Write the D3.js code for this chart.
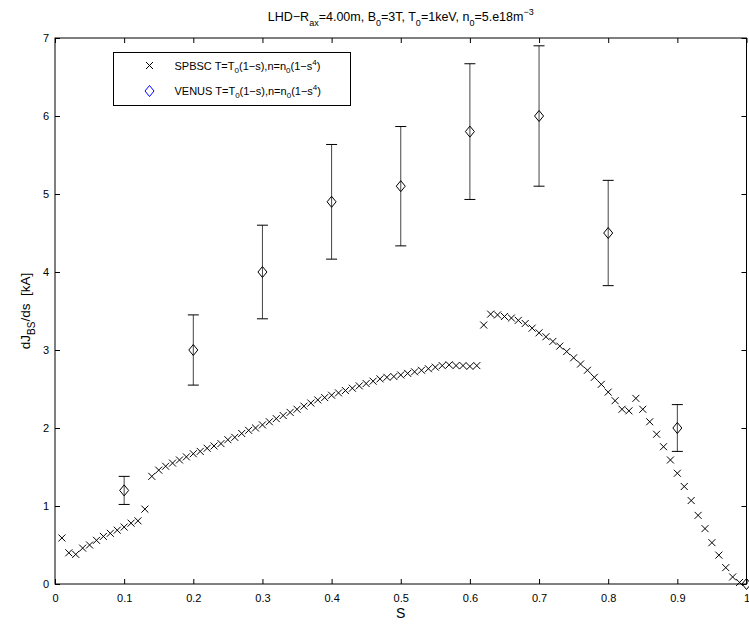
<!DOCTYPE html>
<html lang="en">
<head>
    <meta charset="UTF-8">
    <title>dJBS/ds</title>
    <script src="https://cdn.jsdelivr.net/npm/d3@7/dist/d3.min.js"></script>
    <style>
        body { margin: 0; background: #fff; }
        svg { font-family: "Liberation Sans", Arial, sans-serif; }
        .tick text { font-size: 11px; fill: #000; }
        .tick line { stroke: #000; }
    </style>
</head>
<body>
    <svg width="749" height="624"></svg>
    <script>
        // SPBSC points
        var spbscS = [0.01, 0.02, 0.03, 0.04, 0.05, 0.06, 0.07, 0.08, 0.09, 0.10,
                      0.11, 0.12, 0.13, 0.14, 0.15, 0.16, 0.17, 0.18, 0.19, 0.20,
                      0.21, 0.22, 0.23, 0.24, 0.25, 0.26, 0.27, 0.28, 0.29, 0.30,
                      0.31, 0.32, 0.33, 0.34, 0.35, 0.36, 0.37, 0.38, 0.39, 0.40,
                      0.41, 0.42, 0.43, 0.44, 0.45, 0.46, 0.47, 0.48, 0.49, 0.50,
                      0.51, 0.52, 0.53, 0.54, 0.55, 0.56, 0.57, 0.58, 0.59, 0.60,
                      0.61, 0.62, 0.63, 0.64, 0.65, 0.66, 0.67, 0.68, 0.69, 0.70,
                      0.71, 0.72, 0.73, 0.74, 0.75, 0.76, 0.77, 0.78, 0.79, 0.80,
                      0.81, 0.82, 0.83, 0.84, 0.85, 0.86, 0.87, 0.88, 0.89, 0.90,
                      0.91, 0.92, 0.93, 0.94, 0.95, 0.96, 0.97, 0.98, 0.99];
        var spbscJ = [0.59, 0.40, 0.38, 0.46, 0.50, 0.56, 0.61, 0.65, 0.69, 0.73,
                      0.78, 0.81, 0.96, 1.38, 1.46, 1.51, 1.55, 1.59, 1.63, 1.67,
                      1.70, 1.74, 1.77, 1.80, 1.85, 1.88, 1.93, 1.97, 2.00, 2.04,
                      2.08, 2.12, 2.16, 2.20, 2.24, 2.28, 2.32, 2.36, 2.39, 2.42,
                      2.45, 2.48, 2.51, 2.54, 2.57, 2.60, 2.63, 2.65, 2.66, 2.68,
                      2.70, 2.72, 2.74, 2.76, 2.78, 2.80, 2.81, 2.80, 2.80, 2.79,
                      2.80, 3.32, 3.46, 3.45, 3.43, 3.41, 3.38, 3.34, 3.28, 3.22,
                      3.17, 3.11, 3.05, 2.98, 2.90, 2.82, 2.74, 2.65, 2.56, 2.46,
                      2.35, 2.24, 2.22, 2.38, 2.24, 2.08, 1.92, 1.76, 1.59, 1.42,
                      1.25, 1.07, 0.88, 0.71, 0.53, 0.37, 0.21, 0.09, 0.02];

        // VENUS points with error bars
        var venusS   = [0.1, 0.2, 0.3, 0.4, 0.5, 0.6, 0.7, 0.8, 0.9, 1.0];
        var venusJ   = [1.2, 3.0, 4.0, 4.9, 5.1, 5.8, 6.0, 4.5, 2.0, 0.0];
        var venusErr = [0.18, 0.45, 0.6, 0.735, 0.765, 0.87, 0.9, 0.675, 0.3, 0.0];

        var xTicks = [0, 0.1, 0.2, 0.3, 0.4, 0.5, 0.6, 0.7, 0.8, 0.9, 1];
        var yTicks = [0, 1, 2, 3, 4, 5, 6, 7];

        var svg = d3.select('svg'),
            margin = { top: 38, right: 2.5, bottom: 40, left: 55 },
            width = 749 - margin.left - margin.right,
            height = 624 - margin.top - margin.bottom,
            xScale = d3.scaleLinear().domain([0, 1]).range([0, width]),
            yScale = d3.scaleLinear().domain([0, 7]).range([height, 0]);

        var chartG = svg.append('g')
            .attr('transform', 'translate(' + [margin.left, margin.top] + ')');

        // axes, ticks inward on all four sides
        chartG.append('g')
            .attr('transform', 'translate(0,' + height + ')')
            .call(d3.axisBottom(xScale).tickValues(xTicks).tickSize(-5).tickPadding(10)
                .tickFormat(function(d) { return d; }))
            .call(function(g) { g.select('.domain').remove(); });
        chartG.append('g')
            .call(d3.axisTop(xScale).tickValues(xTicks).tickSize(-5).tickFormat(''))
            .call(function(g) { g.select('.domain').remove(); });
        chartG.append('g')
            .call(d3.axisLeft(yScale).tickValues(yTicks).tickSize(-5).tickPadding(6)
                .tickFormat(function(d) { return d; }))
            .call(function(g) { g.select('.domain').remove(); });
        chartG.append('g')
            .attr('transform', 'translate(' + width + ',0)')
            .call(d3.axisRight(yScale).tickValues(yTicks).tickSize(-5).tickFormat(''))
            .call(function(g) { g.select('.domain').remove(); });

        chartG.append('rect')
            .attr('width', width)
            .attr('height', height)
            .attr('fill', 'none')
            .attr('stroke', '#000')
            .attr('stroke-width', 1);

        // SPBSC x markers
        var xMark = 'M-3.5,-3.5L3.5,3.5M-3.5,3.5L3.5,-3.5';
        chartG.append('g').selectAll('path')
            .data(spbscS)
            .join('path')
            .attr('d', xMark)
            .attr('transform', function(d, i) {
                return 'translate(' + [xScale(d), yScale(spbscJ[i])] + ')';
            })
            .attr('fill', 'none')
            .attr('stroke', '#000')
            .attr('stroke-width', 1);

        // VENUS error bars
        var venus = venusS.map(function(s, i) {
            return { s: s, j: venusJ[i], e: venusErr[i] };
        });
        var errG = chartG.append('g').selectAll('g')
            .data(venus.filter(function(d) { return d.e > 0; }))
            .join('g');
        errG.append('line')
            .attr('x1', function(d) { return xScale(d.s); })
            .attr('x2', function(d) { return xScale(d.s); })
            .attr('y1', function(d) { return yScale(d.j - d.e); })
            .attr('y2', function(d) { return yScale(d.j + d.e); })
            .attr('stroke', '#444');
        [-1, 1].forEach(function(sign) {
            errG.append('line')
                .attr('x1', function(d) { return xScale(d.s) - 5.5; })
                .attr('x2', function(d) { return xScale(d.s) + 5.5; })
                .attr('y1', function(d) { return yScale(d.j + sign * d.e); })
                .attr('y2', function(d) { return yScale(d.j + sign * d.e); })
                .attr('stroke', '#000');
        });

        var diamond = 'M0,-5.5L4.5,0L0,5.5L-4.5,0Z';
        chartG.append('g').selectAll('path')
            .data(venus)
            .join('path')
            .attr('d', diamond)
            .attr('transform', function(d) {
                return 'translate(' + [xScale(d.s), yScale(d.j)] + ')';
            })
            .attr('fill', 'none')
            .attr('stroke', '#000');

        // legend
        var legendG = svg.append('g').attr('transform', 'translate(113.5,52.5)');
        legendG.append('rect')
            .attr('width', 237)
            .attr('height', 53)
            .attr('fill', '#fff')
            .attr('stroke', '#000');
        legendG.append('path')
            .attr('d', xMark)
            .attr('transform', 'translate(36,13)')
            .attr('stroke', '#000');
        legendG.append('path')
            .attr('d', diamond)
            .attr('transform', 'translate(36,38.5)')
            .attr('fill', 'none')
            .attr('stroke', '#0000ff');

        function legendText(y, name) {
            var t = legendG.append('text')
                .attr('x', 61)
                .attr('y', y)
                .attr('font-size', 11);
            t.append('tspan').text(name + ' T=T');
            t.append('tspan').attr('font-size', 8).attr('dy', 3).text('0');
            t.append('tspan').attr('dy', -3).text('(1\u2212s),n=n');
            t.append('tspan').attr('font-size', 8).attr('dy', 3).text('0');
            t.append('tspan').attr('dy', -3).text('(1\u2212s');
            t.append('tspan').attr('font-size', 8).attr('dy', -5).text('4');
            t.append('tspan').attr('dy', 5).text(')');
        }
        legendText(17, 'SPBSC');
        legendText(42.5, 'VENUS');

        // title
        var title = svg.append('text')
            .attr('x', margin.left + width / 2)
            .attr('y', 21)
            .attr('text-anchor', 'middle')
            .attr('font-size', 12.5);
        title.append('tspan').text('LHD\u2212R');
        title.append('tspan').attr('font-size', 9).attr('dy', 5).text('ax');
        title.append('tspan').attr('dy', -5).text('=4.00m, B');
        title.append('tspan').attr('font-size', 9).attr('dy', 5).text('0');
        title.append('tspan').attr('dy', -5).text('=3T, T');
        title.append('tspan').attr('font-size', 9).attr('dy', 5).text('0');
        title.append('tspan').attr('dy', -5).text('=1keV, n');
        title.append('tspan').attr('font-size', 9).attr('dy', 5).text('0');
        title.append('tspan').attr('dy', -5).text('=5.e18m');
        title.append('tspan').attr('font-size', 9).attr('dy', -6).text('\u22123');

        // axis labels
        svg.append('text')
            .attr('x', margin.left + width / 2)
            .attr('y', 618)
            .attr('text-anchor', 'middle')
            .attr('font-size', 14)
            .text('S');

        var yLabel = svg.append('text')
            .attr('transform', 'translate(30,' + (margin.top + height / 2) + ') rotate(-90)')
            .attr('text-anchor', 'middle')
            .attr('font-size', 13.5);
        yLabel.append('tspan').text('dJ');
        yLabel.append('tspan').attr('font-size', 10).attr('dy', 5).text('BS');
        yLabel.append('tspan').attr('dy', -5).text('/ds\u00a0\u00a0[kA]');
    </script>
</body>
</html>
